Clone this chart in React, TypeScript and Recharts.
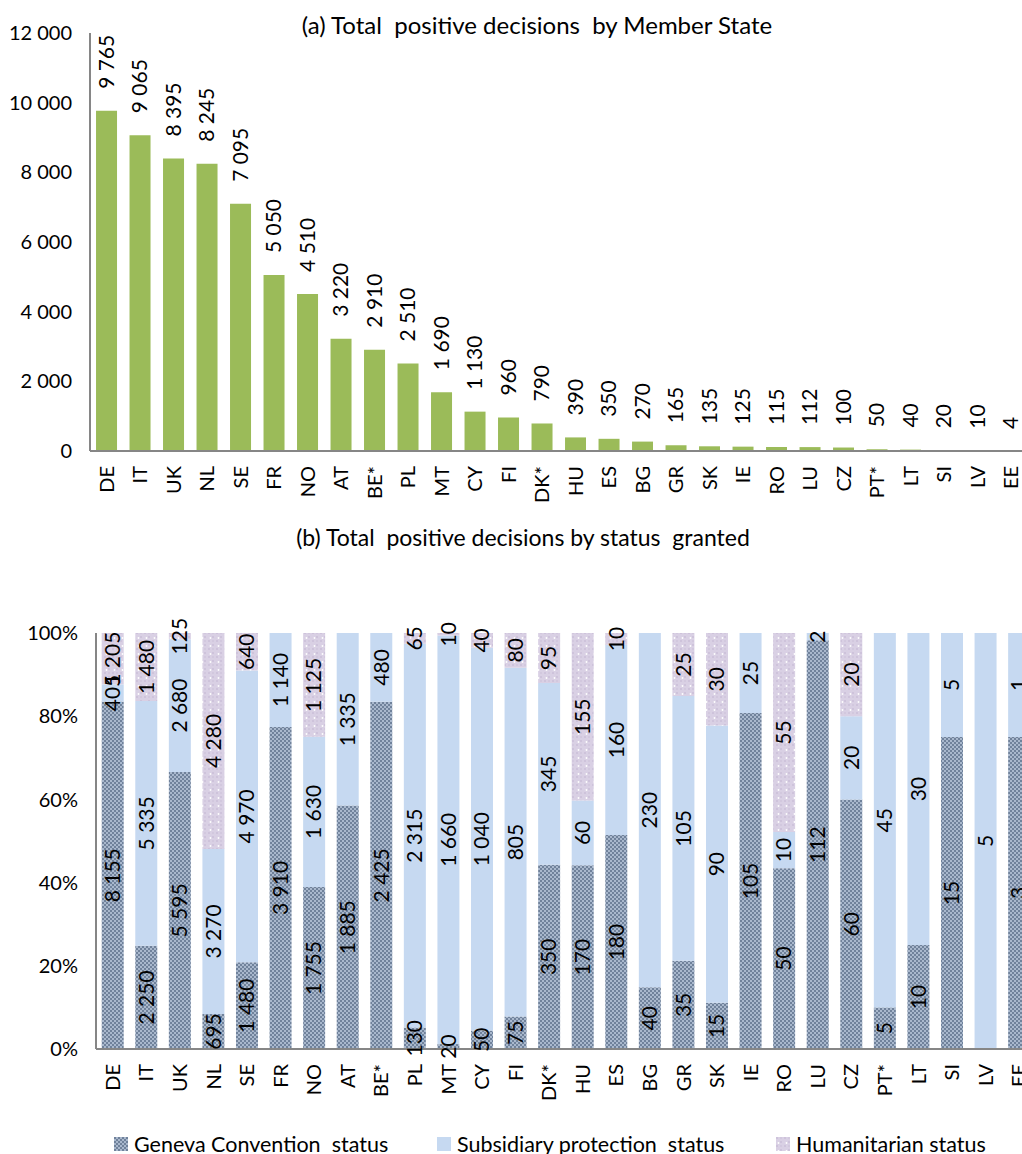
import { Bar, BarChart, LabelList, XAxis, YAxis } from "recharts";

const countries = ["DE", "IT", "UK", "NL", "SE", "FR", "NO", "AT", "BE*", "PL", "MT", "CY", "FI", "DK*", "HU", "ES", "BG", "GR", "SK", "IE", "RO", "LU", "CZ", "PT*", "LT", "SI", "LV", "EE"];
const totalDecisions = [9765, 9065, 8395, 8245, 7095, 5050, 4510, 3220, 2910, 2510, 1690, 1130, 960, 790, 390, 350, 270, 165, 135, 125, 115, 112, 100, 50, 40, 20, 10, 4];
const genevaStatus = [8155, 2250, 5595, 695, 1480, 3910, 1755, 1885, 2425, 130, 20, 50, 75, 350, 170, 180, 40, 35, 15, 105, 50, 112, 60, 5, 10, 15, 0, 3];
const subsidiaryStatus = [405, 5335, 2680, 3270, 4970, 1140, 1630, 1335, 480, 2315, 1660, 1040, 805, 345, 60, 160, 230, 105, 90, 25, 10, 2, 20, 45, 30, 5, 5, 1];
const humanitarianStatus = [1205, 1480, 125, 4280, 640, 0, 1125, 0, 0, 65, 10, 40, 80, 95, 155, 10, 0, 25, 30, 0, 55, 0, 20, 0, 0, 0, 0, 0];
const totalTicks = [0, 2000, 4000, 6000, 8000, 10000, 12000];
const shareTicks = [0, 0.2, 0.4, 0.6, 0.8, 1];

const FONT = "Lato, 'Open Sans', sans-serif";
const AXIS = "#868686";

const fmt = (v: number) => String(v).replace(/\B(?=(\d{3})+(?!\d))/g, " ");

const totalRows = countries.map((country, i) => ({ country, total: totalDecisions[i] }));
const statusRows = countries.map((country, i) => ({
  country,
  geneva: genevaStatus[i],
  subsidiary: subsidiaryStatus[i],
  humanitarian: humanitarianStatus[i],
}));

function Patterns({ prefix }: { prefix: string }) {
  return (
    <defs>
      <pattern id={`${prefix}-geneva`} width="4" height="4" patternUnits="userSpaceOnUse">
        <rect width="4" height="4" fill="#A9B8CD" />
        <rect width="2" height="2" fill="#70829B" />
        <rect x="2" y="2" width="2" height="2" fill="#70829B" />
      </pattern>
      <pattern id={`${prefix}-hum`} width="8" height="8" patternUnits="userSpaceOnUse">
        <rect width="8" height="8" fill="#D9D0E4" />
        <rect width="2" height="2" fill="#CEC3DB" />
        <rect x="4" y="4" width="2" height="2" fill="#CEC3DB" />
        <rect x="4" width="2" height="2" fill="#D2C8DE" />
        <circle cx="2.5" cy="6" r="0.9" fill="#ffffff" />
      </pattern>
    </defs>
  );
}

// the raw value of a label, read from the payload through the LabelList's dataKey
const rawValue = (props: any): number => {
  const v = props.value;
  if (Array.isArray(v)) return Number(v[1]) - Number(v[0]);
  return Number(v);
};

function RotTick(props: any) {
  const { x, y, payload } = props;
  return (
    <text
      x={x}
      y={y}
      transform={`rotate(-90 ${x} ${y})`}
      textAnchor="end"
      dy="0.35em"
      fontSize={20}
      fontFamily={FONT}
      fill="#000"
    >
      {payload.value}
    </text>
  );
}

function TopLabel(props: any) {
  const box = props.viewBox ?? props;
  const cx = Number(box.x ?? props.x) + Number(box.width ?? props.width) / 2;
  const ty = Number(box.y ?? props.y) - 22;
  const v = rawValue(props);
  return (
    <text
      x={cx}
      y={ty}
      transform={`rotate(-90 ${cx} ${ty})`}
      textAnchor="start"
      dy="0.35em"
      fontSize={21}
      fontFamily={FONT}
      fill="#000"
    >
      {fmt(v)}
    </text>
  );
}

function MidLabel(props: any) {
  const v = rawValue(props);
  if (!v) return null;
  const box = props.viewBox ?? props;
  const x = Number(box.x ?? props.x);
  const y = Number(box.y ?? props.y);
  const w = Number(box.width ?? props.width);
  const h = Number(box.height ?? props.height);
  const cx = x + w / 2;
  const cy = y + h / 2;
  return (
    <text
      x={cx}
      y={cy}
      transform={`rotate(-90 ${cx} ${cy})`}
      textAnchor="middle"
      dy="0.35em"
      fontSize={21}
      fontFamily={FONT}
      fill="#000"
    >
      {fmt(v)}
    </text>
  );
}

const titleStyle = {
  position: "absolute" as const,
  fontFamily: FONT,
  fontSize: 23,
  color: "#000",
  whiteSpace: "pre" as const,
  transform: "translate(-50%, -50%)",
};

const legendItems = [
  { label: "Geneva Convention  status", fill: "url(#lg-geneva)", left: 114 },
  { label: "Subsidiary protection  status", fill: "#C6D9F1", left: 437 },
  { label: "Humanitarian status", fill: "url(#lg-hum)", left: 776 },
];

export default function App() {
  return (
    <div
      style={{
        position: "absolute",
        left: 0,
        top: 0,
        width: 1022,
        height: 1154,
        overflow: "hidden",
        background: "#fff",
      }}
    >
      <div style={{ ...titleStyle, fontSize: 24, left: 537, top: 24 }}>(a) Total  positive decisions  by Member State</div>
      <div style={{ position: "absolute", left: 0, top: 0 }}>
        <BarChart
          width={1040}
          height={510}
          data={totalRows}
          margin={{ top: 33, right: 12, bottom: 0, left: 0 }}
          barCategoryGap="18%"
        >
          <XAxis
            dataKey="country"
            interval={0}
            height={59}
            tickLine={false}
            tickSize={15}
            tickMargin={0}
            axisLine={{ stroke: AXIS, strokeWidth: 2 }}
            tick={<RotTick />}
          />
          <YAxis
            width={90}
            domain={[0, 12000]}
            ticks={totalTicks}
            tickFormatter={fmt}
            tickLine={false}
            tickSize={18}
            tickMargin={0}
            axisLine={{ stroke: AXIS, strokeWidth: 2 }}
            tick={{ fontSize: 20, fontFamily: FONT, fill: "#000" }}
            interval={0}
          />
          <Bar dataKey="total" fill="#9BBB59" isAnimationActive={false}>
            <LabelList dataKey="total" content={TopLabel} />
          </Bar>
        </BarChart>
      </div>

      <div style={{ ...titleStyle, left: 523, top: 537 }}>(b) Total  positive decisions by status  granted</div>
      <div style={{ position: "absolute", left: 0, top: 560 }}>
        <BarChart
          width={1048}
          height={545}
          data={statusRows}
          stackOffset="expand"
          margin={{ top: 73, right: 12, bottom: 0, left: 0 }}
          barCategoryGap="17%"
        >
          <Patterns prefix="st" />
          <XAxis
            dataKey="country"
            interval={0}
            height={56}
            tickLine={false}
            tickSize={15}
            tickMargin={0}
            axisLine={{ stroke: AXIS, strokeWidth: 2 }}
            tick={<RotTick />}
          />
          <YAxis
            width={96}
            type="number"
            domain={[0, 1]}
            ticks={shareTicks}
            tickFormatter={(v: number) => `${Math.round(v * 100)}%`}
            tickLine={false}
            tickSize={18}
            tickMargin={0}
            axisLine={{ stroke: AXIS, strokeWidth: 2 }}
            tick={{ fontSize: 20, fontFamily: FONT, fill: "#000" }}
            interval={0}
          />
          <Bar dataKey="geneva" stackId="s" fill="url(#st-geneva)" isAnimationActive={false}>
            <LabelList dataKey="geneva" content={MidLabel} />
          </Bar>
          <Bar dataKey="subsidiary" stackId="s" fill="#C6D9F1" isAnimationActive={false}>
            <LabelList dataKey="subsidiary" content={MidLabel} />
          </Bar>
          <Bar dataKey="humanitarian" stackId="s" fill="url(#st-hum)" isAnimationActive={false}>
            <LabelList dataKey="humanitarian" content={MidLabel} />
          </Bar>
        </BarChart>
      </div>

      <svg width={0} height={0} style={{ position: "absolute" }}>
        <Patterns prefix="lg" />
      </svg>
      {legendItems.map((item) => (
        <div
          key={item.label}
          style={{
            position: "absolute",
            left: item.left,
            top: 1131,
            display: "flex",
            alignItems: "center",
            fontFamily: FONT,
            fontSize: 21.5,
            whiteSpace: "pre",
            color: "#000",
          }}
        >
          <svg width={14} height={14} style={{ marginRight: 6 }}>
            <rect width={14} height={14} fill={item.fill} />
          </svg>
          {item.label}
        </div>
      ))}
    </div>
  );
}
